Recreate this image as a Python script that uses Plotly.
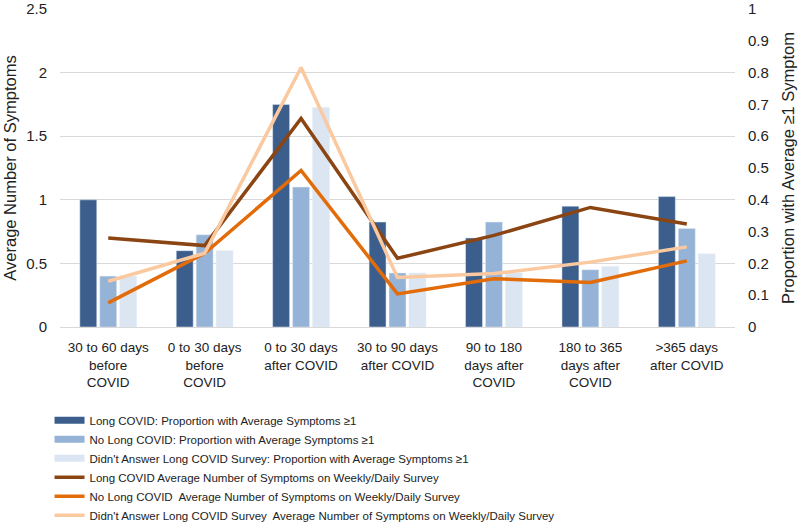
import plotly.graph_objects as go

categories = [
    "30 to 60 days<br>before<br>COVID",
    "0 to 30 days<br>before<br>COVID",
    "0 to 30 days<br>after COVID",
    "30 to 90 days<br>after COVID",
    "90 to 180<br>days after<br>COVID",
    "180 to 365<br>days after<br>COVID",
    ">365 days<br>after COVID",
]

# Proportion with average symptoms >= 1 (right axis)
prop_long = [0.40, 0.24, 0.70, 0.33, 0.28, 0.38, 0.41]
prop_no = [0.16, 0.29, 0.44, 0.17, 0.33, 0.18, 0.31]
prop_didnt = [0.16, 0.24, 0.69, 0.17, 0.17, 0.19, 0.23]

# Average number of symptoms (left axis)
avg_long = [0.70, 0.64, 1.64, 0.54, 0.72, 0.94, 0.81]
avg_no = [0.19, 0.58, 1.23, 0.26, 0.38, 0.35, 0.52]
avg_didnt = [0.36, 0.58, 2.04, 0.39, 0.42, 0.51, 0.63]

bar_names = [
    "Long COVID: Proportion with Average Symptoms ≥1",
    "No Long COVID: Proportion with Average Symptoms ≥1",
    "Didn't Answer Long COVID Survey: Proportion with Average Symptoms ≥1",
]
line_names = [
    "Long COVID Average Number of Symptoms on Weekly/Daily Survey",
    "No Long COVID  Average Number of Symptoms on Weekly/Daily Survey",
    "Didn't Answer Long COVID Survey  Average Number of Symptoms on Weekly/Daily Survey",
]
bar_colors = ["#3B5E8C", "#95B3D7", "#DCE6F2"]
line_colors = ["#8B4513", "#E36C0A", "#FAC9A0"]

FONT = "Liberation Sans, Arial"

fig = go.Figure()
for name, vals, col in zip(bar_names, [prop_long, prop_no, prop_didnt], bar_colors):
    fig.add_trace(go.Bar(x=categories, y=vals, marker_color=col, name=name,
                         yaxis="y", showlegend=False))
# legend entries for bars
for name, col in zip(bar_names, bar_colors):
    fig.add_trace(go.Scatter(x=[None], y=[None], mode="lines", name=name,
                             line=dict(color=col, width=7), yaxis="y2"))
for name, vals, col in zip(line_names, [avg_long, avg_no, avg_didnt], line_colors):
    fig.add_trace(go.Scatter(x=categories, y=vals, mode="lines", name=name,
                             line=dict(color=col, width=3.5), yaxis="y2"))

fig.update_layout(
    width=800, height=525,
    margin=dict(l=60, r=65, t=9, b=198, autoexpand=False),
    paper_bgcolor="white", plot_bgcolor="white",
    font=dict(family=FONT, size=15, color="#222"),
    barmode="group", bargap=0.38, bargroupgap=0.15,
    xaxis=dict(showgrid=False, showline=True, linecolor="#D9D9D9",
               tickfont=dict(size=13.5), tickangle=0, ticks="", automargin=False,
               ticklabelstandoff=8),
    yaxis=dict(range=[0, 1], dtick=0.1, side="right", showgrid=False, zeroline=False,
               ticklabelstandoff=12, automargin=False, ticklabeloverflow="allow",
               title=dict(text="Proportion with Average ≥1 Symptom",
                          font=dict(size=16.5), standoff=14)),
    yaxis2=dict(range=[0, 2.5], dtick=0.5, side="left", overlaying="y", showgrid=True,
                gridcolor="#D9D9D9", zeroline=False, ticklabelstandoff=12,
                automargin=False, ticklabeloverflow="allow",
                title=dict(text="Average Number of Symptoms",
                           font=dict(size=16.5), standoff=5)),
    legend=dict(x=-0.0155, xanchor="left", y=-0.248, yanchor="top", orientation="v",
                font=dict(size=11.5), itemwidth=30, tracegroupgap=0,
                bgcolor="rgba(0,0,0,0)"),
)

fig.write_html("out.html", config={"displayModeBar": False},
               post_script="document.body.style.margin='0';")
